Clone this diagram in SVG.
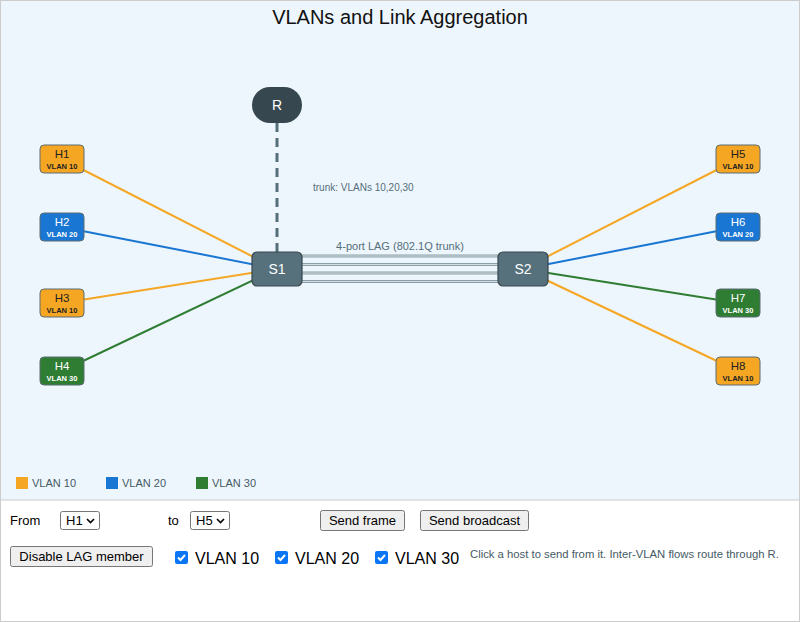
<svg xmlns="http://www.w3.org/2000/svg" width="800" height="622" viewBox="0 0 800 622">
<style>
text{font-family:"Liberation Sans",Arial,sans-serif}
.host rect{stroke:#5d6d75;stroke-width:1}
.hn{font-size:11.5px;text-anchor:middle}
.hv{font-size:7.5px;font-weight:bold;text-anchor:middle}
.dk{fill:#222}
.wt{fill:#fff}
.sw rect{fill:#56707c;stroke:#37474f;stroke-width:1.2}
.swt{font-size:14px;fill:#fff;text-anchor:middle}
.lk{stroke-width:2;fill:none}
.o{stroke:#f5a623}.b{stroke:#1976d2}.g{stroke:#2e7d32}
.lag1{stroke:#8a9ea8;stroke-width:3}
.lag2{stroke:#d5dee3;stroke-width:1}
.btn{fill:#efefef;stroke:#767676;stroke-width:1}
.bt{font-size:13px;fill:#000;text-anchor:middle}
.lg{font-size:11px;fill:#455a64}
.cb{fill:#0a75f5}
.chk{stroke:#fff;stroke-width:2;fill:none}
</style>
<rect x="0.5" y="0.5" width="799" height="621" fill="#fff" stroke="#ccc"/>
<rect x="1" y="1" width="798" height="499" fill="#eef6fd"/>
<line x1="1" y1="500" x2="799" y2="500" stroke="#ccc"/>
<text x="400" y="24" font-size="20" text-anchor="middle" fill="#111">VLANs and Link Aggregation</text>

<g id="connectors">
<line class="lk o" x1="62" y1="159" x2="277" y2="269"/>
<line class="lk b" x1="62" y1="227" x2="277" y2="269"/>
<line class="lk o" x1="62" y1="303" x2="277" y2="269"/>
<line class="lk g" x1="62" y1="371" x2="277" y2="269"/>
<line class="lk o" x1="738" y1="159" x2="523" y2="269"/>
<line class="lk b" x1="738" y1="227" x2="523" y2="269"/>
<line class="lk g" x1="738" y1="303" x2="523" y2="269"/>
<line class="lk o" x1="738" y1="371" x2="523" y2="269"/>
<line x1="277" y1="123" x2="277" y2="252" stroke="#546e7a" stroke-width="3" stroke-dasharray="9,6"/>
<g id="lag">
<line class="lag1" x1="300" y1="256" x2="500" y2="256"/>
<line class="lag1" x1="300" y1="264.5" x2="500" y2="264.5"/>
<line class="lag1" x1="300" y1="273" x2="500" y2="273"/>
<line class="lag1" x1="300" y1="281.5" x2="500" y2="281.5"/>
<line class="lag2" x1="300" y1="256" x2="500" y2="256"/>
<line class="lag2" x1="300" y1="264.5" x2="500" y2="264.5"/>
<line class="lag2" x1="300" y1="273" x2="500" y2="273"/>
<line class="lag2" x1="300" y1="281.5" x2="500" y2="281.5"/>
</g>
<text x="400" y="250" font-size="11" text-anchor="middle" fill="#546e7a">4-port LAG (802.1Q trunk)</text>
<text x="313" y="191" font-size="10" fill="#546e7a">trunk: VLANs 10,20,30</text>
</g>

<g id="R">
<rect x="252" y="87" width="50" height="36" rx="18" fill="#37474f"/>
<text x="277" y="110" class="swt">R</text>
</g>
<g id="S1" class="sw">
<rect x="252" y="252" width="50" height="34" rx="5"/>
<text x="277" y="274" class="swt">S1</text>
</g>
<g id="S2" class="sw">
<rect x="498" y="252" width="50" height="34" rx="5"/>
<text x="523" y="274" class="swt">S2</text>
</g>

<g id="H1" class="host"><rect x="40" y="145" width="44" height="28" rx="4" fill="#f5a623"/><text x="62" y="158" class="hn dk">H1</text><text x="62" y="169" class="hv dk">VLAN 10</text></g>
<g id="H2" class="host"><rect x="40" y="213" width="44" height="28" rx="4" fill="#1976d2"/><text x="62" y="226" class="hn wt">H2</text><text x="62" y="237" class="hv wt">VLAN 20</text></g>
<g id="H3" class="host"><rect x="40" y="289" width="44" height="28" rx="4" fill="#f5a623"/><text x="62" y="302" class="hn dk">H3</text><text x="62" y="313" class="hv dk">VLAN 10</text></g>
<g id="H4" class="host"><rect x="40" y="357" width="44" height="28" rx="4" fill="#2e7d32"/><text x="62" y="370" class="hn wt">H4</text><text x="62" y="381" class="hv wt">VLAN 30</text></g>
<g id="H5" class="host"><rect x="716" y="145" width="44" height="28" rx="4" fill="#f5a623"/><text x="738" y="158" class="hn dk">H5</text><text x="738" y="169" class="hv dk">VLAN 10</text></g>
<g id="H6" class="host"><rect x="716" y="213" width="44" height="28" rx="4" fill="#1976d2"/><text x="738" y="226" class="hn wt">H6</text><text x="738" y="237" class="hv wt">VLAN 20</text></g>
<g id="H7" class="host"><rect x="716" y="289" width="44" height="28" rx="4" fill="#2e7d32"/><text x="738" y="302" class="hn wt">H7</text><text x="738" y="313" class="hv wt">VLAN 30</text></g>
<g id="H8" class="host"><rect x="716" y="357" width="44" height="28" rx="4" fill="#f5a623"/><text x="738" y="370" class="hn dk">H8</text><text x="738" y="381" class="hv dk">VLAN 10</text></g>

<g id="legend">
<rect x="16" y="477" width="12" height="12" fill="#f5a623"/><text x="32" y="487" class="lg">VLAN 10</text>
<rect x="106" y="477" width="12" height="12" fill="#1976d2"/><text x="122" y="487" class="lg">VLAN 20</text>
<rect x="196" y="477" width="12" height="12" fill="#2e7d32"/><text x="212" y="487" class="lg">VLAN 30</text>
</g>

<g id="controls">
<text x="10" y="525" font-size="13" fill="#000">From</text>
<rect x="60.5" y="511.5" width="39" height="18" rx="2" fill="#fff" stroke="#767676"/>
<text x="66" y="525" font-size="13" fill="#000">H1</text>
<path d="M87 519 l3.5 3.5 l3.5 -3.5" stroke="#000" stroke-width="1.6" fill="none"/>
<text x="168" y="525" font-size="13" fill="#000">to</text>
<rect x="190.5" y="511.5" width="39" height="18" rx="2" fill="#fff" stroke="#767676"/>
<text x="196" y="525" font-size="13" fill="#000">H5</text>
<path d="M217 519 l3.5 3.5 l3.5 -3.5" stroke="#000" stroke-width="1.6" fill="none"/>
<rect class="btn" x="320.5" y="510.5" width="84" height="20" rx="2"/>
<text x="362.5" y="525" class="bt">Send frame</text>
<rect class="btn" x="420.5" y="510.5" width="108" height="20" rx="2"/>
<text x="474.5" y="525" class="bt">Send broadcast</text>
<rect class="btn" x="10.5" y="546.5" width="142" height="20" rx="2"/>
<text x="81.5" y="561" class="bt">Disable LAG member</text>
<rect class="cb" x="175" y="551" width="13" height="13" rx="2"/>
<path class="chk" d="M178 557.5 l2.5 2.5 l4.5 -5"/>
<text x="195" y="564" font-size="16" fill="#000">VLAN 10</text>
<rect class="cb" x="275" y="551" width="13" height="13" rx="2"/>
<path class="chk" d="M278 557.5 l2.5 2.5 l4.5 -5"/>
<text x="295" y="564" font-size="16" fill="#000">VLAN 20</text>
<rect class="cb" x="375" y="551" width="13" height="13" rx="2"/>
<path class="chk" d="M378 557.5 l2.5 2.5 l4.5 -5"/>
<text x="395" y="564" font-size="16" fill="#000">VLAN 30</text>
<text x="470" y="558" font-size="11.3" fill="#455a64">Click a host to send from it. Inter-VLAN flows route through R.</text>
</g>
</svg>
